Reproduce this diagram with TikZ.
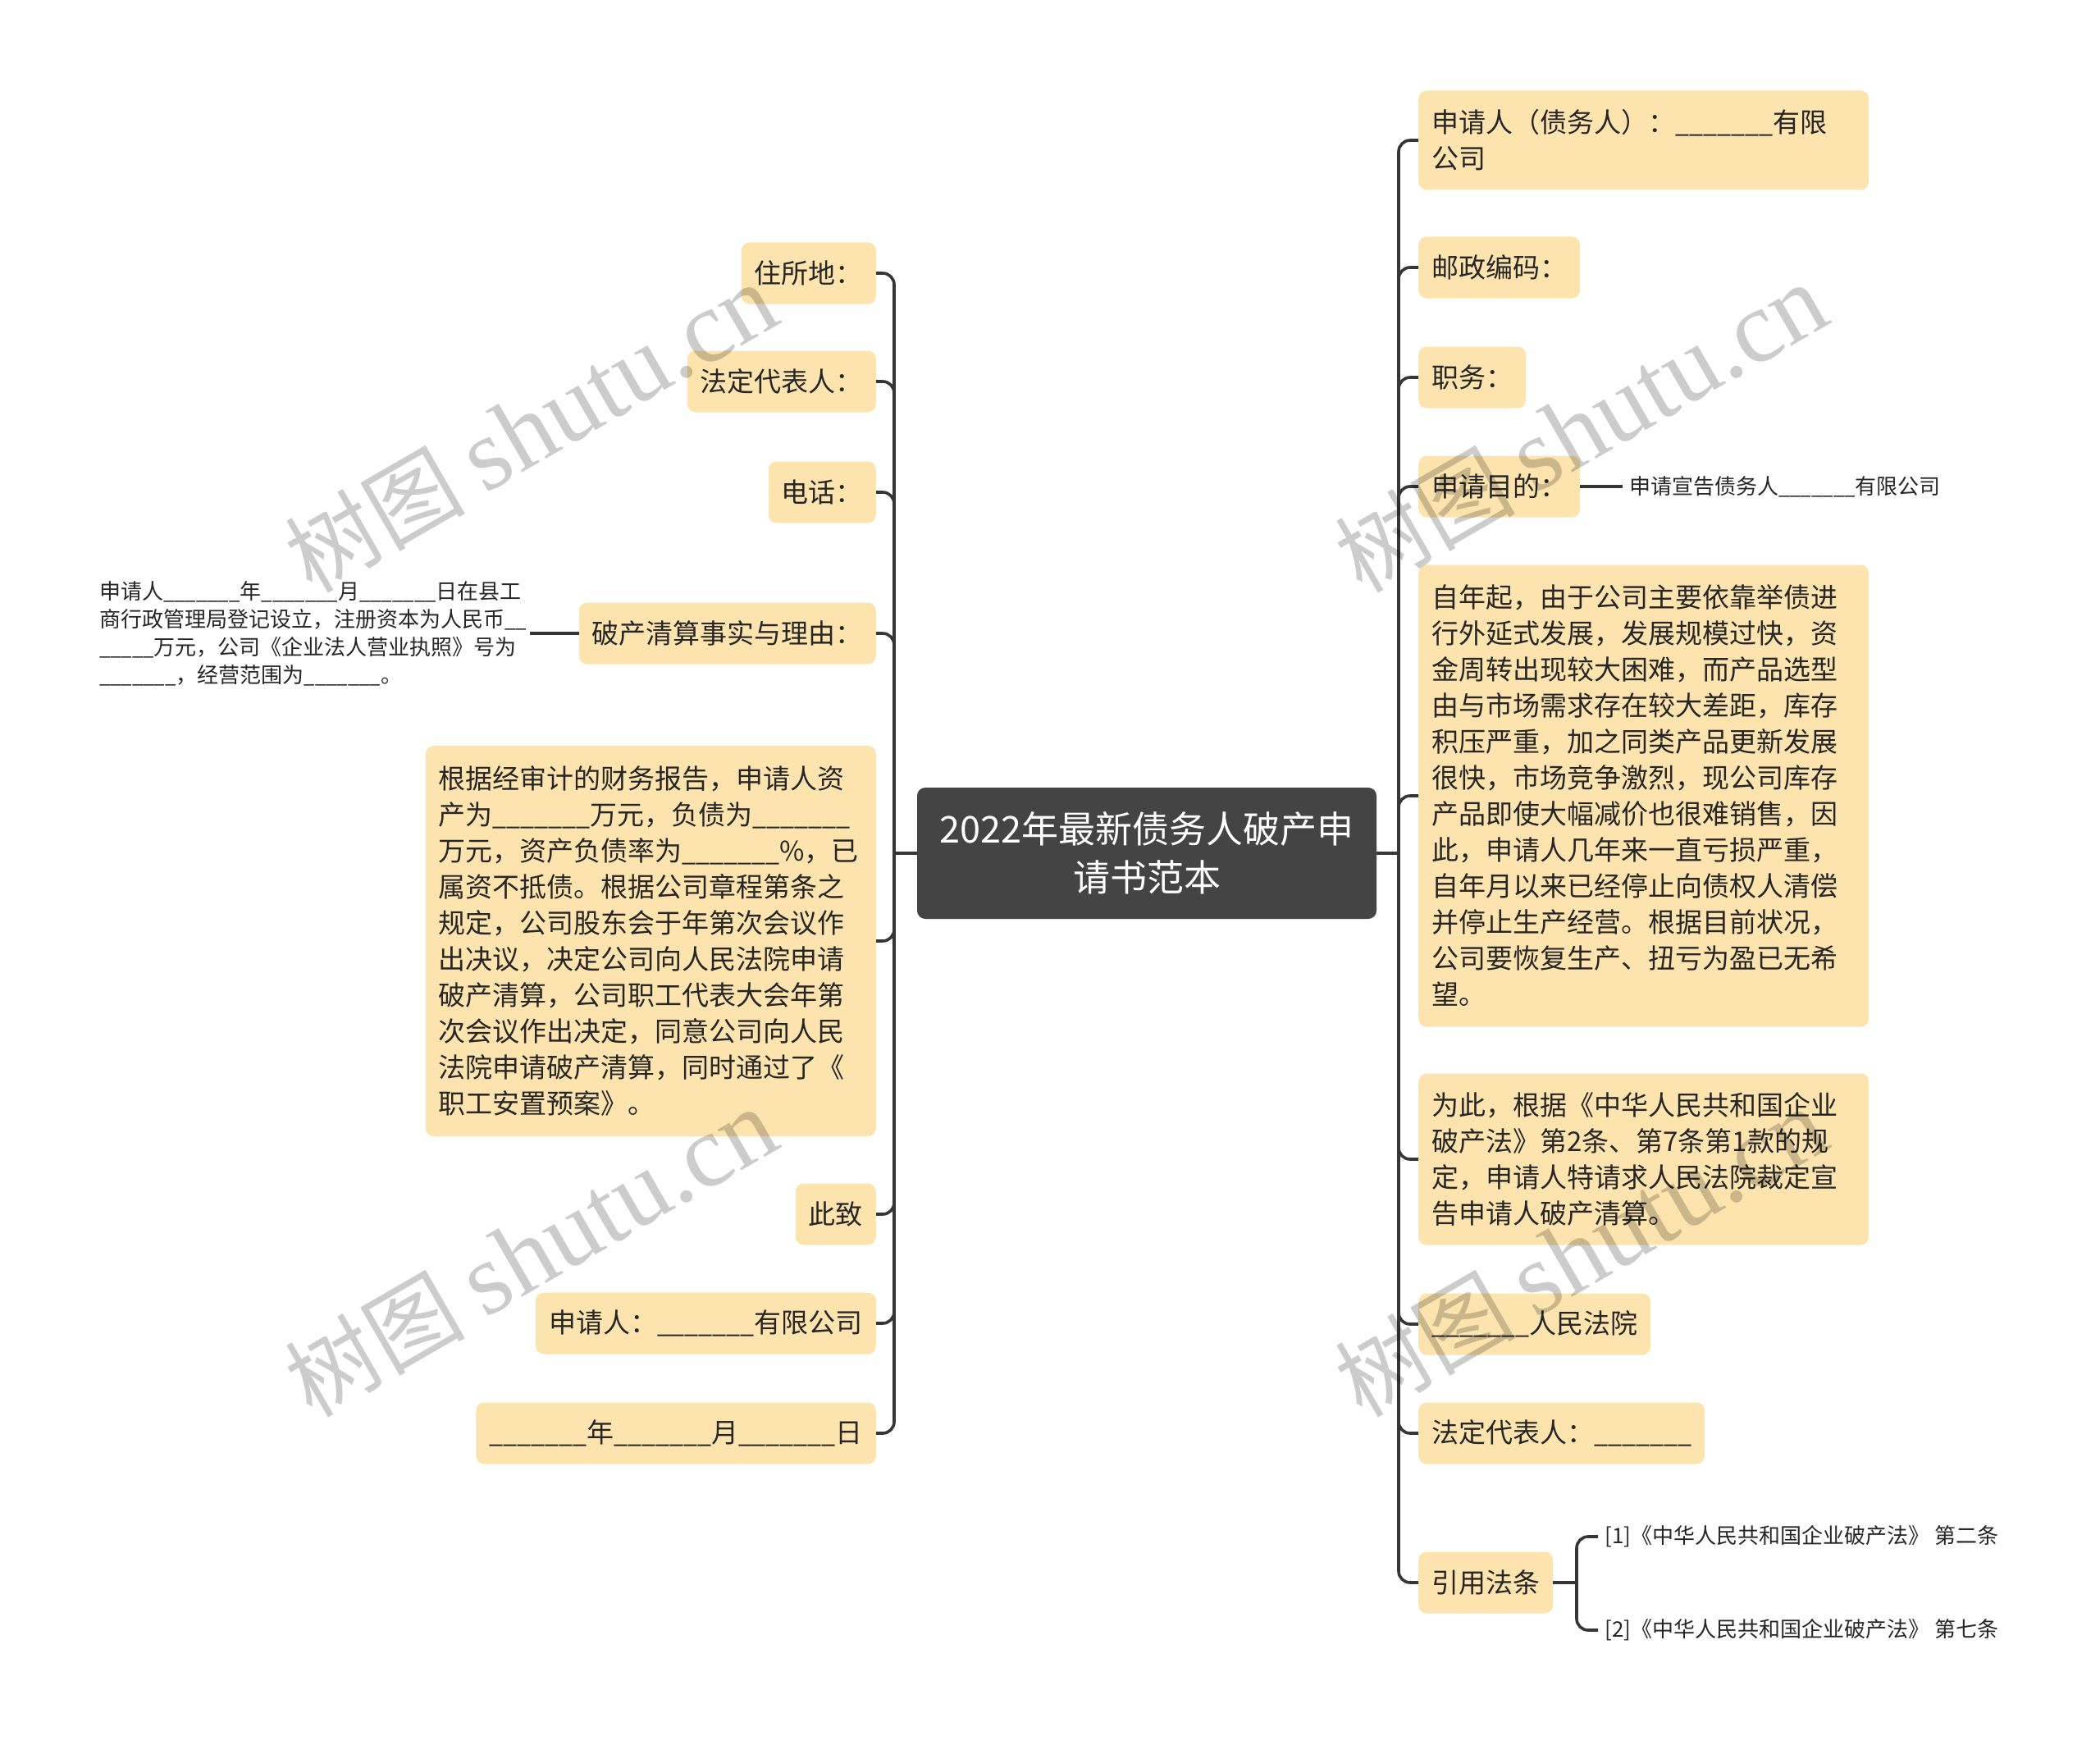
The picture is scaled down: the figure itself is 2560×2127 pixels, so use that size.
\documentclass[tikz,border=0pt]{standalone}
\usepackage{fontspec}
\setmainfont{Noto Sans CJK SC}
\newfontfamily\wmserif{Liberation Serif}
\newfontfamily\wmcjk{Noto Sans CJK SC}
\definecolor{boxfill}{HTML}{FDE4AE}
\definecolor{linec}{HTML}{363636}
\definecolor{rootfill}{HTML}{444444}
\newcommand\ublank{\scalebox{0.92}[1]{\_\_\_\_\_\_\_}}
\tikzset{
  topic/.style={fill=boxfill, rounded corners=10pt, inner xsep=16pt, inner ysep=0pt,
    minimum height=75pt, font=\fontsize{33}{44}\selectfont, text=black!85, align=left},
  wide/.style={topic, text width=517pt},
  root/.style={fill=rootfill, rounded corners=10pt, minimum width=560pt, minimum height=160pt,
    text=white, font=\fontsize{45}{59}\selectfont, align=center},
  leaf/.style={font=\fontsize{26}{34}\selectfont, text=black!85, align=left, inner xsep=8pt, inner ysep=2pt},
  conn/.style={draw=linec, line width=3.6pt, rounded corners=14pt},
  wm/.style={text=black, opacity=0.2, rotate=30, inner sep=0pt}
}
\begin{document}
\begin{tikzpicture}[x=1pt,y=-1pt]
\fill[white] (0,0) rectangle (2560,2127);
\useasboundingbox (0,0) rectangle (2560,2127);

% root
\node[root] (root) at (1398,1040) {2022年最新债务人破产申\\请书范本};

% left topics
\node[topic, anchor=east] (L1) at (1068,333) {住所地：};
\node[topic, anchor=east] (L2) at (1068,465) {法定代表人：};
\node[topic, anchor=east] (L3) at (1068,600) {电话：};
\node[topic, anchor=east] (L4) at (1068,772) {破产清算事实与理由：};
\node[wide, anchor=east, minimum height=476pt] (L5) at (1068,1147) {根据经审计的财务报告，申请人资\\产为\ublank 万元，负债为\ublank\\万元，资产负债率为\ublank\%，已\\属资不抵债。根据公司章程第条之\\规定，公司股东会于年第次会议作\\出决议，决定公司向人民法院申请\\破产清算，公司职工代表大会年第\\次会议作出决定，同意公司向人民\\法院申请破产清算，同时通过了《\\职工安置预案》。};
\node[topic, anchor=east] (L6) at (1068,1480) {此致};
\node[topic, anchor=east] (L7) at (1068,1613) {申请人：\ublank 有限公司};
\node[topic, anchor=east] (L8) at (1068,1747) {\ublank 年\ublank 月\ublank 日};

\node[leaf, anchor=east, inner xsep=4pt] (L4c) at (646,772) {申请人\ublank 年\ublank 月\ublank 日在县工\\商行政管理局登记设立，注册资本为人民币\scalebox{0.92}[1]{\_\_}\\\scalebox{0.92}[1]{\_\_\_\_\_}万元，公司《企业法人营业执照》号为\\\ublank ，经营范围为\ublank 。};

% right topics
\node[wide, anchor=west, minimum height=121pt] (R1) at (1729,171) {申请人（债务人）：\ublank 有限\\公司};
\node[topic, anchor=west] (R2) at (1729,326) {邮政编码：};
\node[topic, anchor=west] (R3) at (1729,460) {职务：};
\node[topic, anchor=west] (R4) at (1729,593) {申请目的：};
\node[wide, anchor=west, minimum height=563pt] (R5) at (1729,970) {自年起，由于公司主要依靠举债进\\行外延式发展，发展规模过快，资\\金周转出现较大困难，而产品选型\\由与市场需求存在较大差距，库存\\积压严重，加之同类产品更新发展\\很快，市场竞争激烈，现公司库存\\产品即使大幅减价也很难销售，因\\此，申请人几年来一直亏损严重，\\自年月以来已经停止向债权人清偿\\并停止生产经营。根据目前状况，\\公司要恢复生产、扭亏为盈已无希\\望。};
\node[wide, anchor=west, minimum height=209pt] (R6) at (1729,1413) {为此，根据《中华人民共和国企业\\破产法》第2条、第7条第1款的规\\定，申请人特请求人民法院裁定宣\\告申请人破产清算。};
\node[topic, anchor=west] (R7) at (1729,1614) {\ublank 人民法院};
\node[topic, anchor=west] (R8) at (1729,1747) {法定代表人：\ublank};
\node[topic, anchor=west] (R9) at (1729,1929) {引用法条};

\node[leaf, anchor=west] (R4c) at (1978,593) {申请宣告债务人\ublank 有限公司};
\node[leaf, anchor=west] (C1) at (1948,1873) {[1]《中华人民共和国企业破产法》 第二条};
\node[leaf, anchor=west] (C2) at (1948,1987) {[2]《中华人民共和国企业破产法》 第七条};

% connectors
\coordinate (hl) at (1090,1040);
\coordinate (hr) at (1705,1040);
\coordinate (hc) at (1922,1929);
\draw[conn] (root.west) -- (hl);
\draw[conn] (root.east) -- (hr);
\foreach \n in {L1,L2,L3,L4,L5,L6,L7,L8} { \draw[conn] (hl) |- (\n.east); }
\foreach \n in {R1,R2,R3,R4,R5,R6,R7,R8,R9} { \draw[conn] (hr) |- (\n.west); }
\draw[conn] (L4.west) -- (L4c.east);
\draw[conn] (R4.east) -- (R4c.west);
\draw[conn] (R9.east) -- (hc);
\draw[conn] (hc) |- (C1.west);
\draw[conn] (hc) |- (C2.west);

% watermarks
\foreach \p/\q in {647/522, 647/1527, 1927/522, 1927/1527} {
  \node[wm] (wm\p\q) at (\p,\q) {\wmcjk\fontsize{110}{110}\selectfont 树图\ \wmserif\fontsize{125}{125}\selectfont shutu.cn};
}
\end{tikzpicture}
\end{document}
